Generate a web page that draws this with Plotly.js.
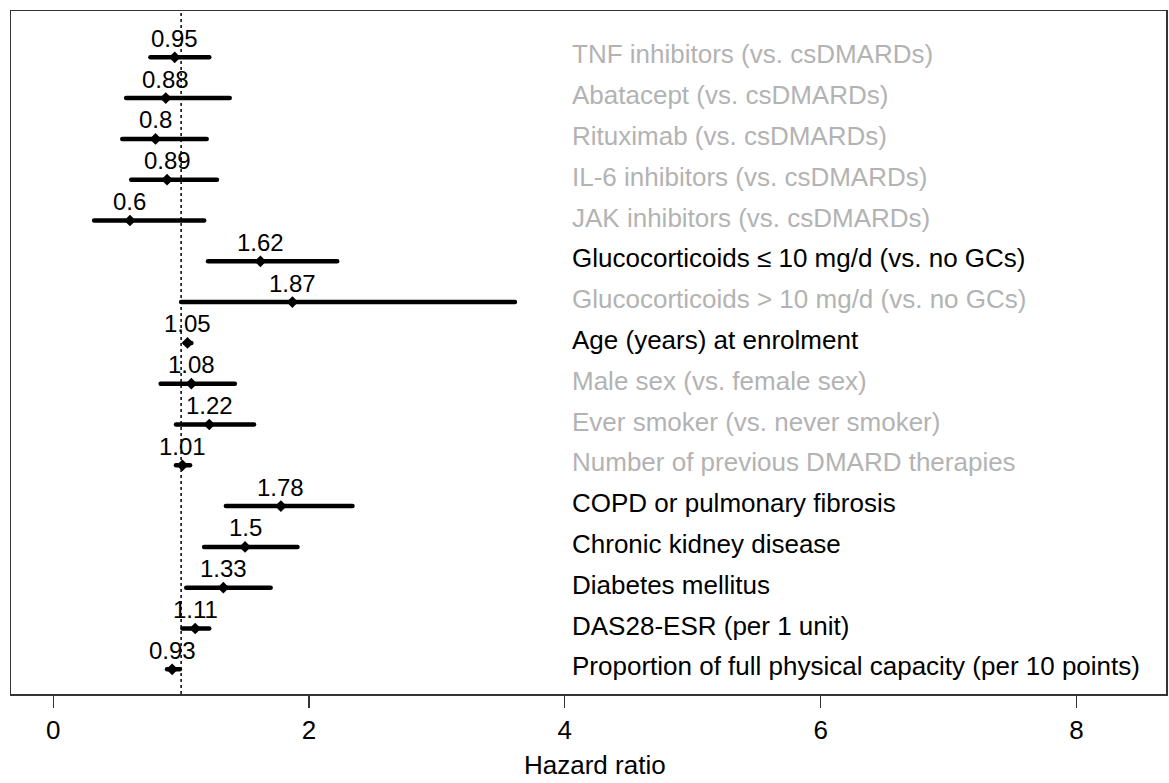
<!DOCTYPE html>
<html>
<head>
<meta charset="utf-8">
<script src="https://cdn.plot.ly/plotly-3.0.1.min.js"></script>
<style>
html,body{margin:0;padding:0;background:#fff;}
#chart{width:1169px;height:783px;}
.js-line{stroke-linecap:round;}
</style>
</head>
<body>
<div id="chart"></div>
<script>
// ---- data ----
const categories = [
  "TNF inhibitors (vs. csDMARDs)",
  "Abatacept (vs. csDMARDs)",
  "Rituximab (vs. csDMARDs)",
  "IL-6 inhibitors (vs. csDMARDs)",
  "JAK inhibitors (vs. csDMARDs)",
  "Glucocorticoids \u2264 10 mg/d (vs. no GCs)",
  "Glucocorticoids > 10 mg/d (vs. no GCs)",
  "Age (years) at enrolment",
  "Male sex (vs. female sex)",
  "Ever smoker (vs. never smoker)",
  "Number of previous DMARD therapies",
  "COPD or pulmonary fibrosis",
  "Chronic kidney disease",
  "Diabetes mellitus",
  "DAS28-ESR (per 1 unit)",
  "Proportion of full physical capacity (per 10 points)"
];
const hazardRatio = [0.95, 0.88, 0.8, 0.89, 0.6, 1.62, 1.87, 1.05, 1.08, 1.22, 1.01, 1.78, 1.5, 1.33, 1.11, 0.93];
const ciLower     = [0.76, 0.57, 0.54, 0.61, 0.32, 1.21, 1.00, 1.03, 0.84, 0.96, 0.96, 1.35, 1.18, 1.04, 1.01, 0.89];
const ciUpper     = [1.22, 1.38, 1.20, 1.28, 1.18, 2.22, 3.61, 1.08, 1.42, 1.57, 1.07, 2.34, 1.91, 1.70, 1.22, 0.99];
const hrLabels    = ["0.95","0.88","0.8","0.89","0.6","1.62","1.87","1.05","1.08","1.22","1.01","1.78","1.5","1.33","1.11","0.93"];
const significant = [false,false,false,false,false,true,false,true,false,false,false,true,true,true,true,true];
const xTicks = [0, 2, 4, 6, 8];
const xAxisTitle = "Hazard ratio";
const referenceHR = 1;

// ---- build ----
const rows = categories.map((_, i) => i);
const lx = [], ly = [];
rows.forEach(i => { lx.push(ciLower[i], ciUpper[i], null); ly.push(i, i, null); });

const traces = [
  {x: lx, y: ly, mode: 'lines', type: 'scatter', hoverinfo: 'skip',
   line: {color: '#000', width: 4.5}, showlegend: false},
  {x: hazardRatio, y: rows, mode: 'markers', type: 'scatter',
   marker: {symbol: 'diamond', size: 9, color: '#000'}, showlegend: false}
];

const annotations = [];
rows.forEach(i => {
  annotations.push({x: hazardRatio[i], y: i, xref: 'x', yref: 'y', text: hrLabels[i],
    showarrow: false, xanchor: 'center', yanchor: 'middle', yshift: 19,
    font: {family: 'Liberation Sans, Arial, sans-serif', size: 24, color: '#000'}});
  annotations.push({x: 4.068, y: i, xref: 'x', yref: 'y', text: categories[i],
    showarrow: false, xanchor: 'left', yanchor: 'middle', yshift: 3, xshift: -4,
    font: {family: 'Liberation Sans, Arial, sans-serif', size: 26,
           color: significant[i] ? '#000' : '#b3b3b3'}});
});
// axis title
annotations.push({x: 4.236, y: -0.104, xref: 'x', yref: 'paper', text: xAxisTitle,
  showarrow: false, xanchor: 'center', yanchor: 'middle',
  font: {family: 'Liberation Sans, Arial, sans-serif', size: 26, color: '#000'}});

const layout = {
  width: 1169, height: 783,
  margin: {l: 11, r: 3, t: 11, b: 89},
  paper_bgcolor: '#fff', plot_bgcolor: '#fff',
  showlegend: false,
  font: {family: 'Liberation Sans, Arial, sans-serif', size: 24, color: '#000'},
  xaxis: {
    range: [-0.33, 8.70], tickvals: xTicks, ticktext: xTicks.map(String),
    ticks: 'outside', ticklen: 12, tickwidth: 1.3, tickcolor: '#333',
    showgrid: false, zeroline: false,
    showline: true, mirror: true, linecolor: '#333', linewidth: 1.5,
    tickfont: {size: 26, color: '#000'}
  },
  yaxis: {
    range: [15.605, -1.135], showticklabels: false, ticks: '',
    showgrid: false, zeroline: false,
    showline: true, mirror: true, linecolor: '#333', linewidth: 1.5
  },
  shapes: [{type: 'line', xref: 'x', yref: 'paper', x0: referenceHR, x1: referenceHR, y0: 0, y1: 1,
            line: {color: '#000', width: 1.5, dash: 'dot'}}],
  annotations: annotations
};

Plotly.newPlot('chart', traces, layout, {displayModeBar: false, staticPlot: true});
</script>
</body>
</html>
